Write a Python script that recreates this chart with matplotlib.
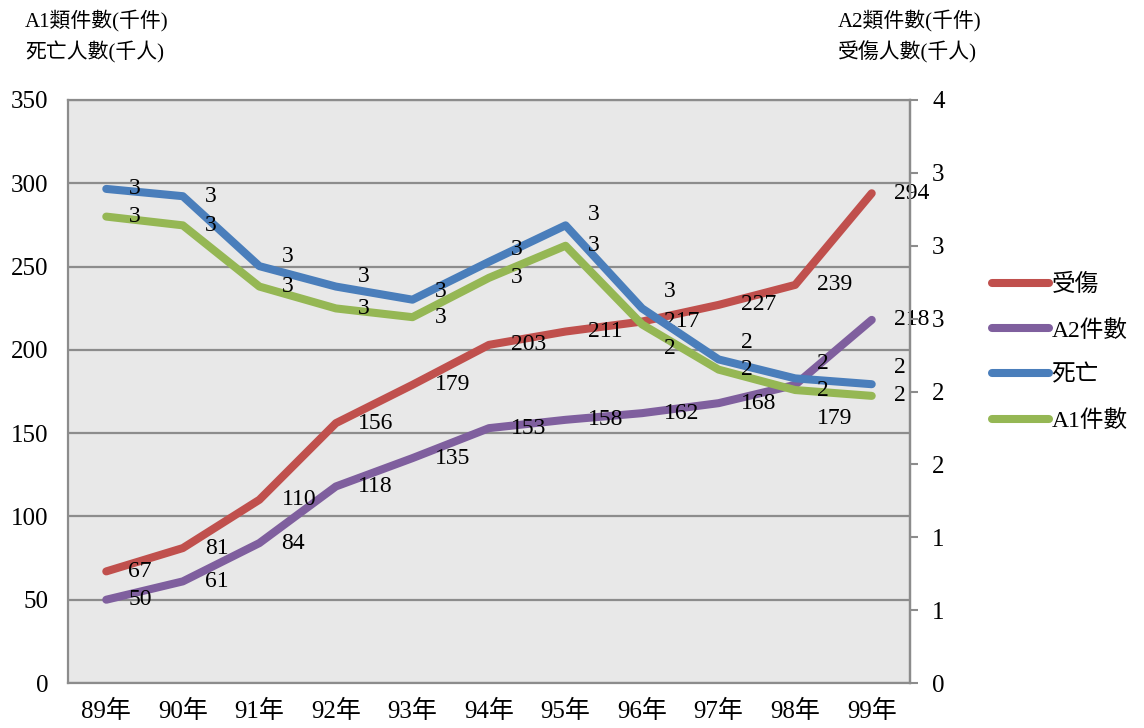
import matplotlib
matplotlib.use("Agg")
import matplotlib.pyplot as plt
from matplotlib.lines import Line2D

plt.rcParams['font.family'] = ['Liberation Serif', 'Noto Sans CJK TC', 'DejaVu Sans']

# ---------------------------------------------------------------------------
# Data
# ---------------------------------------------------------------------------
years = ["89年", "90年", "91年", "92年", "93年", "94年", "95年", "96年", "97年", "98年", "99年"]

injured = [67, 81, 110, 156, 179, 203, 211, 217, 227, 239, 294]          # 受傷 (left axis)
a2_cases = [50, 61, 84, 118, 135, 153, 158, 162, 168, 179, 218]          # A2件數 (left axis)
deaths = [3.39, 3.34, 2.86, 2.72, 2.63, 2.89, 3.14, 2.57, 2.22, 2.09, 2.05]  # 死亡 (right axis)
a1_cases = [3.20, 3.14, 2.72, 2.57, 2.51, 2.78, 3.00, 2.46, 2.15, 2.01, 1.97]  # A1件數 (right axis)

left_ticks = [0, 50, 100, 150, 200, 250, 300, 350]
right_ticks = [0, 0.5, 1, 1.5, 2, 2.5, 3, 3.5, 4]
right_tick_labels = ["0", "1", "1", "2", "2", "3", "3", "3", "4"]

# colours (Excel 2007 palette)
C_RED, C_PURPLE, C_BLUE, C_GREEN = "#C0504D", "#7F5F9E", "#4A7EBB", "#95B754"
GRID = "#8C8C8C"

# label nudges in points (styling only)
blue_dy = [0, 0, 7, 7, 6, 9, 8, 12, 12, 11, 12]
green_dy = [0, 0, 0, 0, 0, 0, 0, -17, 0, 0, 0]
purple_dy = [0, 0, 0, 0, 0, 0, 0, 0, 0, -24, 0]

# ---------------------------------------------------------------------------
fig = plt.figure(figsize=(11.44, 7.28), dpi=100)
ax = fig.add_axes([68 / 1144, 45 / 728, 842 / 1144, 583 / 728])
ax2 = ax.twinx()

x = list(range(len(years)))
lw = 5.8
kw = dict(lw=lw, solid_capstyle="round", solid_joinstyle="round")

ax.plot(x, injured, color=C_RED, **kw)
ax.plot(x, a2_cases, color=C_PURPLE, **kw)
ax2.plot(x, deaths, color=C_BLUE, **kw)
ax2.plot(x, a1_cases, color=C_GREEN, **kw)

lab_fs = 17
for i in x:
    ax.annotate(f"{injured[i]:.0f}", (i, injured[i]), xytext=(16, 0),
                textcoords="offset points", ha="left", va="center", fontsize=lab_fs)
    ax.annotate(f"{a2_cases[i]:.0f}", (i, a2_cases[i]), xytext=(16, purple_dy[i]),
                textcoords="offset points", ha="left", va="center", fontsize=lab_fs)
    ax2.annotate(f"{round(deaths[i])}", (i, deaths[i]), xytext=(16, blue_dy[i]),
                 textcoords="offset points", ha="left", va="center", fontsize=lab_fs)
    ax2.annotate(f"{round(a1_cases[i])}", (i, a1_cases[i]), xytext=(16, green_dy[i]),
                 textcoords="offset points", ha="left", va="center", fontsize=lab_fs)

# axes styling
ax.set_facecolor("#E8E8E8")
ax.set_xlim(-0.5, len(years) - 0.5)
ax.set_ylim(0, 350)
ax2.set_ylim(0, 4)
ax.set_yticks(left_ticks)
ax.set_yticklabels([str(t) for t in left_ticks], fontsize=18)
ax.set_xticks(x)
ax.set_xticklabels(years, fontsize=18)
ax2.set_yticks(right_ticks)
ax2.set_yticklabels(right_tick_labels, fontsize=18)

ax.yaxis.grid(True, color=GRID, lw=1.6)
ax.set_axisbelow(True)
ax.tick_params(axis="y", length=0, pad=14)
ax.tick_params(axis="x", length=0, pad=12)
ax2.tick_params(axis="y", length=6, width=1.5, color=GRID, direction="out", pad=10)

for a in (ax, ax2):
    for sp in a.spines.values():
        sp.set_color(GRID)
        sp.set_linewidth(1.6)
ax2.spines["top"].set_visible(False)
ax2.spines["left"].set_visible(False)
ax2.spines["bottom"].set_visible(False)

# axis titles
fig.text(25 / 1144, 1 - 20 / 728, "A1類件數(千件)", fontsize=15, va="center", ha="left")
fig.text(25 / 1144, 1 - 52 / 728, "死亡人數(千人)", fontsize=15, va="center", ha="left")
fig.text(838 / 1144, 1 - 20 / 728, "A2類件數(千件)", fontsize=15, va="center", ha="left")
fig.text(838 / 1144, 1 - 52 / 728, "受傷人數(千人)", fontsize=15, va="center", ha="left")

# legend
handles = [Line2D([], [], color=c, lw=lw, solid_capstyle="round") for c in (C_RED, C_PURPLE, C_BLUE, C_GREEN)]
names = ["受傷", "A2件數", "死亡", "A1件數"]
fig.legend(handles, names, loc="center left", bbox_to_anchor=(983 / 1144, 1 - 353 / 728),
           frameon=False, fontsize=17, handlelength=2.4, handletextpad=0.1,
           labelspacing=1.0, borderaxespad=0)

fig.savefig("out.png", dpi=100)
